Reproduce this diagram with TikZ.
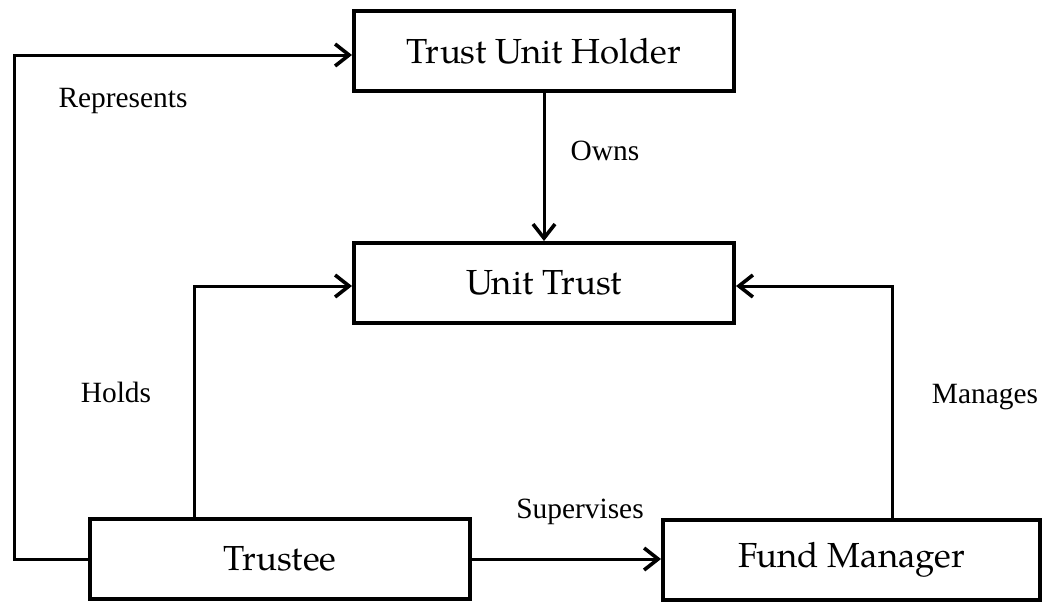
\documentclass[tikz,border=0pt]{standalone}
\usepackage{fontspec}
\setmainfont{Liberation Serif}
\newfontfamily\boxfont{texgyrepagella-regular.otf}
\usetikzlibrary{arrows.meta}
\begin{document}
\begin{tikzpicture}[x=0.5pt,y=-0.5pt,
  ent/.style={draw,line width=2pt,minimum width=190pt,minimum height=40pt,inner sep=0pt,font=\boxfont\fontsize{17.4}{20}\selectfont},
  arr/.style={line width=1.5pt,-{Straight Barb[length=7pt,width=11pt,line width=1.8pt]}},
  lbl/.style={anchor=base,inner sep=0pt,font=\fontsize{14.7}{17}\selectfont}]
\useasboundingbox (0,0) rectangle (1042,601);
\node[ent] (TUH) at (544,51) {Trust Unit Holder};
\node[ent] (UT) at (544,283) {Unit Trust};
\node[ent] (TR) at (280,559) {Trustee};
\node[ent,minimum width=188.5pt] (FM) at (851.5,560) {Fund Manager};
\coordinate (c1) at (14,55);
\coordinate (h) at (194,286);
\coordinate (m) at (892,286);
\draw[arr] (TR.west) -| (c1) -- (c1 -| TUH.west);
\draw[arr] (TUH.south) -- (UT.north);
\draw[arr] (h |- TR.north) -- (h) -- (h -| UT.west);
\draw[arr] (m |- FM.north) -- (m) -- (m -| UT.east);
\draw[arr] (TR.east) -- (TR.east -| FM.west);
\node[lbl] (l1) at (123,107) {Represents};
\node[lbl] (l2) at (605,160) {Owns};
\node[lbl] (l3) at (116,402) {Holds};
\node[lbl] (l4) at (985,403) {Manages};
\node[lbl] (l5) at (580,518) {Supervises};
\end{tikzpicture}
\end{document}
